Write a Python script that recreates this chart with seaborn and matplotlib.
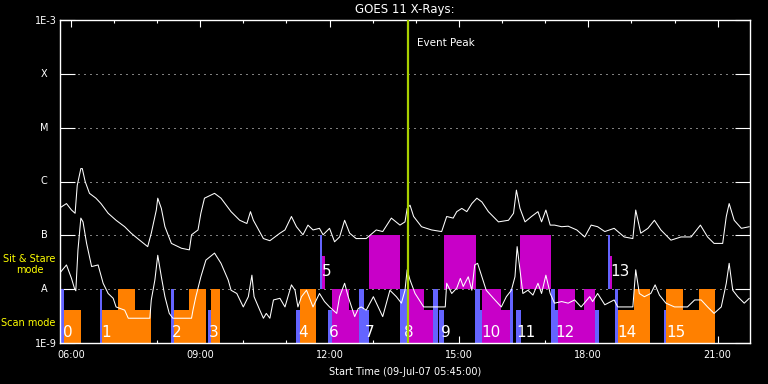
import matplotlib
matplotlib.use("Agg")
import numpy as np
import pandas as pd
import seaborn as sns
import matplotlib.pyplot as plt
import matplotlib.transforms as mtransforms
from matplotlib.ticker import MultipleLocator, NullLocator

# times are minutes after the start time (09-Jul-07 05:45:00), fluxes are log10(W/m^2)
START_HOUR = 5.75

LONG_MIN = [1, 9, 16, 21, 24, 29, 31, 35, 41, 50, 57, 67, 78, 90, 99, 108, 122, 127, 134, 136,
            141, 146, 155, 169, 180, 183, 192, 196, 201, 215, 224, 238, 250, 260, 265, 269, 283, 292,
            306, 313, 322, 329, 338, 345, 352, 361, 366, 375, 382, 389, 396, 403, 412, 426, 440, 449,
            461, 473, 480, 483, 487, 492, 503, 517, 531, 538, 547, 552, 559, 566, 573, 580, 587, 596,
            610, 624, 631, 635, 640, 647, 656, 665, 670, 676, 682, 688, 698, 707, 719, 730, 739, 748,
            758, 771, 785, 797, 801, 808, 818, 827, 836, 850, 864, 878, 891, 901, 910, 922, 927, 931,
            938, 948, 959]
LONG_LOG = [-6.48, -6.41, -6.53, -6.59, -6.07, -5.76, -5.76, -6.00, -6.22, -6.31, -6.41, -6.59,
            -6.72, -6.84, -6.96, -7.06, -7.21, -6.96, -6.53, -6.31, -6.50, -6.84, -7.15, -7.24, -7.27,
            -6.99, -6.90, -6.59, -6.31, -6.22, -6.31, -6.56, -6.72, -6.78, -6.56, -6.72, -7.06, -7.10,
            -6.96, -6.90, -6.65, -6.84, -6.99, -6.81, -6.90, -6.87, -6.99, -6.87, -7.12, -7.03, -6.72,
            -6.96, -7.06, -7.06, -6.90, -6.93, -6.68, -6.81, -6.75, -6.50, -6.44, -6.65, -6.84, -6.90,
            -6.93, -6.65, -6.68, -6.56, -6.50, -6.56, -6.41, -6.31, -6.38, -6.56, -6.75, -6.72, -6.59,
            -6.16, -6.50, -6.75, -6.65, -6.56, -6.75, -6.53, -6.81, -6.81, -6.84, -6.83, -6.90, -7.03,
            -6.81, -6.84, -6.93, -6.87, -7.03, -7.06, -6.53, -6.96, -6.87, -6.72, -6.90, -7.09, -7.03,
            -7.03, -6.81, -7.03, -7.15, -7.15, -6.65, -6.41, -6.72, -6.87, -6.84]

SHORT_MIN = [1, 9, 16, 20, 22, 25, 29, 32, 37, 44, 53, 60, 67, 74, 78, 90, 95, 108, 125, 127, 132,
             136, 141, 146, 152, 157, 183, 185, 189, 196, 203, 215, 224, 234, 238, 246, 255, 262,
             267, 270, 278, 283, 287, 292, 297, 306, 313, 322, 327, 331, 336, 343, 352, 361, 368,
             375, 385, 389, 396, 401, 410, 415, 419, 426, 436, 449, 459, 468, 475, 480, 483, 487,
             494, 506, 536, 538, 545, 552, 557, 561, 568, 573, 577, 581, 587, 593, 603, 614, 621,
             628, 633, 636, 640, 644, 651, 658, 665, 670, 676, 682, 688, 698, 707, 716, 725, 737,
             741, 748, 758, 771, 776, 797, 801, 806, 813, 822, 828, 834, 843, 855, 873, 883, 892,
             901, 910, 920, 927, 931, 936, 943, 952, 959]
SHORT_LOG = [-7.68, -7.55, -7.80, -7.98, -8.03, -7.27, -6.68, -6.75, -7.15, -7.58, -7.55, -7.89,
             -8.08, -8.17, -8.33, -8.39, -8.54, -8.54, -8.54, -8.20, -7.83, -7.37, -7.77, -8.14,
             -8.45, -8.54, -8.54, -8.39, -8.14, -7.77, -7.46, -7.33, -7.52, -7.83, -8.02, -8.08,
             -8.33, -8.14, -7.74, -8.14, -8.39, -8.54, -8.45, -8.54, -8.20, -8.17, -8.33, -7.92,
             -8.02, -8.33, -8.14, -8.02, -8.33, -8.08, -8.23, -8.33, -8.45, -8.14, -7.89, -8.14,
             -8.51, -8.36, -8.33, -8.39, -8.14, -8.51, -8.02, -8.14, -8.26, -8.02, -7.64, -7.83,
             -8.08, -8.33, -8.33, -7.89, -8.08, -7.98, -7.80, -7.95, -7.77, -8.02, -7.55, -7.52,
             -7.77, -8.02, -8.17, -8.33, -8.14, -8.02, -7.77, -7.21, -7.64, -8.08, -8.02, -8.11,
             -7.89, -8.08, -7.74, -8.08, -8.26, -8.23, -8.26, -8.20, -8.33, -8.14, -8.23, -8.08,
             -8.29, -8.20, -8.33, -8.33, -7.64, -8.08, -8.14, -8.08, -7.92, -8.11, -8.26, -8.33,
             -8.33, -8.20, -8.20, -8.33, -8.45, -8.33, -7.89, -7.52, -8.02, -8.14, -8.26, -8.17]

# observation blocks: start / end minute, bottom / top level (log10), kind
BLK_START = [1.4, 5.6, 56.0, 58.8, 80.6, 154.7, 158.0, 179.3, 205.7, 209.5, 329.0, 333.6,
             361.4, 364.6, 372.5, 378.1, 401.7, 415.6, 423.2, 429.5, 472.6, 482.3, 506.9, 519.4,
             527.8, 533.7, 577.3, 583.8, 586.6, 613.4, 625.9, 634.2, 639.8, 682.5, 688.1, 692.6,
             717.2, 729.7, 744.6, 763.1, 765.5, 772.8, 776.0, 798.3, 840.9, 843.7, 843.7, 888.6]
BLK_END = [5.6, 29.2, 58.8, 126.1, 103.8, 158.0, 202.5, 202.5, 209.5, 222.0, 333.6, 356.8,
           364.6, 368.4, 378.1, 401.7, 415.6, 422.6, 429.5, 472.6, 482.3, 506.9, 519.4, 526.4,
           534.7, 578.2, 583.8, 586.6, 613.4, 625.5, 630.6, 640.8, 682.5, 688.1, 692.6, 717.2,
           729.7, 744.6, 750.6, 765.5, 768.2, 776.0, 821.5, 821.5, 843.7, 911.8, 866.9, 911.8]
BLK_BOTTOM = [-9, -9, -9, -9, -9, -9, -9, -9, -9, -9, -9, -9,
              -8, -8, -9, -9, -9, -9, -9, -8, -9, -9, -9, -9,
              -9, -8, -9, -9, -9, -9, -9, -9, -8, -9, -9, -9,
              -9, -9, -9, -8, -8, -9, -9, -9, -9, -9, -9, -9]
BLK_TOP = [-8, -8.39, -8, -8.39, -8, -8, -8.39, -8, -8.39, -8, -8.39, -8,
           -7, -7.38, -8.39, -8, -8.39, -8, -8.39, -7, -8, -8, -8.39, -8,
           -8.39, -7, -8, -8.39, -8, -8.39, -8, -8.39, -7, -8, -8.39, -8,
           -8.39, -8, -8.39, -7, -7.38, -8, -8.39, -8, -8.39, -8.39, -8, -8]
BLK_KIND = ["b", "o", "b", "o", "o", "b", "o", "o", "b", "o", "b", "o",
            "b", "m", "b", "m", "m", "b", "b", "m", "b", "m", "m", "b",
            "b", "m", "b", "b", "m", "m", "b", "b", "m", "b", "b", "m",
            "m", "m", "b", "b", "m", "b", "o", "o", "b", "o", "o", "o"]
KIND_COLORS = {"o": "#ff8000", "b": "#6464ff", "m": "#c800c8"}

OBS_NUM = list(range(16))
OBS_MIN = [4.6, 58.0, 155.3, 207.1, 331.2, 363.7, 373.9, 423.9, 478.6, 529.6, 586.2, 634.8,
           689.4, 765.9, 776.0, 843.3]
OBS_SIT = [5, 13]
LABEL_LOG_SCAN = -8.81
LABEL_LOG_SIT = -7.68

EVENT_PEAK_MIN = 484.4
CLASS_NAMES = ["X", "M", "C", "B", "A"]
CLASS_LOG = [-4, -5, -6, -7, -8]

sns.set_theme(style="ticks")
plt.rcParams["font.family"] = ["DejaVu Sans"]
plt.rcParams.update({
    "figure.facecolor": "black",
    "axes.facecolor": "black",
    "axes.edgecolor": "white",
    "text.color": "white",
    "xtick.color": "white",
    "ytick.color": "white",
})


def to_hour(m):
    return START_HOUR + np.asarray(m, dtype=float) / 60.0


fig = plt.figure(figsize=(7.68, 3.84), dpi=100)
ax = fig.add_axes([60 / 768, 1 - 343 / 384, 690 / 768, 323 / 384])
ax.set_yscale("log")

# dotted class levels
for lv in CLASS_LOG:
    ax.axhline(10.0 ** lv, color="white", lw=0.72, ls=(0, (1, 5)), zorder=1)

# observation blocks
bs = to_hour(BLK_START)
be = to_hour(BLK_END)
bot = 10.0 ** np.array(BLK_BOTTOM)
top = 10.0 ** np.array(BLK_TOP)
ax.bar(bs, top - bot, bottom=bot, width=be - bs, align="edge",
       color=[KIND_COLORS[k] for k in BLK_KIND], linewidth=0, zorder=2)

# GOES curves
long_df = pd.DataFrame({"hour": to_hour(LONG_MIN), "flux": 10.0 ** np.array(LONG_LOG)})
short_df = pd.DataFrame({"hour": to_hour(SHORT_MIN), "flux": 10.0 ** np.array(SHORT_LOG)})
sns.lineplot(data=long_df, x="hour", y="flux", ax=ax, color="white", lw=0.75,
             estimator=None, sort=False, zorder=3)
sns.lineplot(data=short_df, x="hour", y="flux", ax=ax, color="white", lw=0.75,
             estimator=None, sort=False, zorder=3)

# observation numbers
for n, m in zip(OBS_NUM, OBS_MIN):
    lv = LABEL_LOG_SIT if n in OBS_SIT else LABEL_LOG_SCAN
    ax.text(to_hour(m), 10.0 ** lv, str(n), color="white", fontsize=11,
            ha="left", va="center", zorder=4)

# event peak
peak = to_hour(EVENT_PEAK_MIN)
ax.axvline(peak, color="#a8d000", lw=1.6, zorder=5)
ax.text(peak + 0.2, 10.0 ** -3.43, "Event Peak", color="white", fontsize=7.5,
        ha="left", va="center")

ax.set_xlim(START_HOUR, START_HOUR + 16)
ax.set_ylim(1e-9, 1e-3)

hours = np.arange(6, 22, 3)
ax.set_xticks(hours)
ax.set_xticklabels([f"{h:02d}:00" for h in hours])
ax.xaxis.set_minor_locator(MultipleLocator(1))
ax.tick_params(axis="x", which="major", direction="in", length=5, width=0.8,
               top=True, bottom=True, labelsize=7, pad=5)
ax.tick_params(axis="x", which="minor", direction="in", length=2.4, width=0.8,
               top=True, bottom=True)

ax.set_yticks([10.0 ** v for v in [-3] + CLASS_LOG + [-9]])
ax.set_yticklabels(["1E-3", "", "", "", "", "", "1E-9"])
ax.yaxis.set_minor_locator(NullLocator())
ax.tick_params(axis="y", which="major", direction="in", length=10.8, width=0.8,
               left=True, right=True, labelsize=7, pad=2.5)

trans = mtransforms.blended_transform_factory(ax.transAxes, ax.transData)
for name, lv in zip(CLASS_NAMES, CLASS_LOG):
    ax.text(-0.0232, 10.0 ** lv, name, transform=trans, color="white", fontsize=7,
            ha="center", va="center")

ax.text(-0.0442, 0.243, "Sit & Stare\nmode", transform=ax.transAxes, color="yellow",
        fontsize=7, ha="center", va="center", linespacing=1.1)
ax.text(-0.0457, 0.0619, "Scan mode", transform=ax.transAxes, color="yellow",
        fontsize=7, ha="center", va="center")

for s in ax.spines.values():
    s.set_color("white")
    s.set_linewidth(1)

ax.set_xlabel("Start Time (09-Jul-07 05:45:00)", color="white", fontsize=7, labelpad=5)
ax.set_ylabel("")
ax.set_title("GOES 11 X-Rays:", color="white", fontsize=8.5, pad=5)

fig.savefig("out.png", dpi=100, facecolor="black")
